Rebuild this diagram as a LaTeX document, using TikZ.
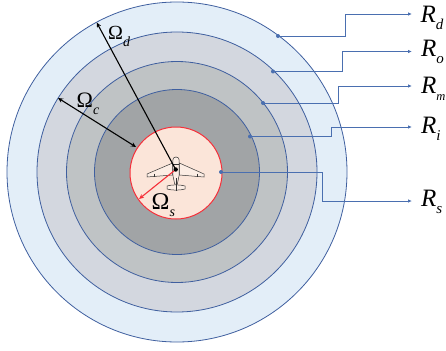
\documentclass[tikz,border=0pt]{standalone}
\usepackage{fontspec}
\setmainfont{Liberation Serif}
\usetikzlibrary{arrows.meta}
\definecolor{ringblue}{HTML}{3F5F9F}
\definecolor{leadblue}{HTML}{4A6FB0}
\definecolor{fd}{HTML}{E3EEF8}
\definecolor{fo}{HTML}{D3D7DF}
\definecolor{fm}{HTML}{BFC3C5}
\definecolor{fi}{HTML}{A1A4A6}
\definecolor{fs}{HTML}{FBE5D9}
\definecolor{redline}{HTML}{F5303A}
\tikzset{
  ring/.style={circle,draw=ringblue,line width=0.8pt,inner sep=0pt,minimum size=#1},
  lead/.style={draw=leadblue,line width=0.9pt,-{Latex[length=4pt,width=3.5pt]}},
  startdot/.style={circle,fill=leadblue,inner sep=0pt,minimum size=4pt},
  rlabel/.style={inner sep=0pt,anchor=base west,font=\fontsize{25}{25}\selectfont\itshape},
  omlabel/.style={inner sep=0pt,anchor=base west},
  dim/.style={draw=black,line width=1.1pt,{Stealth[length=5pt,width=4.5pt]}-{Stealth[length=5pt,width=4.5pt]}},
  plane/.style={draw=black!80,line width=0.5pt,fill=fs!70!white}
}
\newcommand{\rsub}[2][15]{\raisebox{-7pt}{\fontsize{#1}{#1}\selectfont\itshape #2}}
\newcommand{\omsub}[1]{\raisebox{-7pt}{\fontsize{14}{14}\selectfont\itshape #1}}
\begin{document}
\begin{tikzpicture}[x=1pt,y=-1pt]
\useasboundingbox (0,0) rectangle (446,350);
\node[ring=340pt,fill=fd] (d) at (177,172) {};
\node[ring=280pt,fill=fo] (o) at (177,172) {};
\node[ring=221pt,fill=fm] (m) at (177,172) {};
\node[ring=165pt,fill=fi] (i) at (177,172) {};
\node[circle,draw=redline,line width=1pt,fill=fs,inner sep=0pt,minimum size=92pt] (s) at (176,173) {};
% aircraft
\coordinate (c) at (175.7,169.5);
\draw[plane] (172.7,163) -- (147,174) -- (147,177) -- (172.7,175) -- cycle;
\draw[plane] (179.3,163) -- (204,174) -- (204,177) -- (179.3,175) -- cycle;
\draw[plane] (167,186) .. controls (172,184.5) and (180,184.5) .. (185,186) -- (185,189) .. controls (180,190.5) and (172,190.5) .. (167,189) -- cycle;
\draw[plane] (172.8,160) .. controls (172.8,156) and (179.2,156) .. (179.2,160) -- (179,176) -- (177.3,184) -- (174.7,184) -- (173,176) -- cycle;
\draw[black!80,line width=0.7pt] (176,178) -- (176,191);
\draw[black!80,line width=0.5pt] (172.8,164) -- (179.2,164);
\draw[black!80,line width=0.4pt] (197,173.5) -- (197,177) (154,173.5) -- (154,177);
% dimensions
\coordinate (dtip) at (96.7,22.5);
\coordinate (ctip) at (58,98);
\coordinate (cend) at (136,147);
\coordinate (stip) at (139,199);
\draw[draw=black,line width=1.1pt,-{Stealth[length=5pt,width=4.5pt]}] (c) -- (dtip);
\draw[dim] (ctip) -- (cend);
\draw[draw=redline,line width=1.1pt,-{Stealth[length=5pt,width=4.5pt]}] (c) -- (stip);
\fill[black] (c) circle (2.2pt);
\node[omlabel,font=\fontsize{20}{20}\selectfont] (ld) at (108,40) {Ω\omsub{d}};
\node[omlabel,font=\fontsize{22}{22}\selectfont] (lc) at (76.5,107) {Ω\omsub{c}};
\node[omlabel,font=\fontsize{24}{24}\selectfont] (ls) at (151.5,209) {Ω\omsub{s}};
% leader lines
\node[rlabel] (Rd) at (420.5,23) {R\rsub{d}};
\node[rlabel] (Ro) at (421,57) {R\rsub{o}};
\node[rlabel] (Rm) at (421,93) {R\rsub[12.5]{m}};
\node[rlabel] (Ri) at (421,133) {R\rsub{i}};
\node[rlabel] (Rs) at (421,206.7) {R\rsub{s}};
\coordinate (ad) at (278,36); \coordinate (ed) at (412,14);
\coordinate (ao) at (273,71.5); \coordinate (eo) at (412,51.5);
\coordinate (am) at (263,103); \coordinate (em) at (412,86);
\coordinate (ai) at (250,136.5); \coordinate (ei) at (412,127);
\coordinate (as) at (221,172); \coordinate (es) at (412,201);
\draw[lead] (ad) -- (345.7,36) -- (345.7,14) -- (ed);
\draw[lead] (ao) -- (342,71.5) -- (342,51.5) -- (eo);
\draw[lead] (am) -- (338,103) -- (338,86) -- (em);
\draw[lead] (ai) -- (331.5,136.5) -- (331.5,127) -- (ei);
\draw[lead] (as) -- (322,172) -- (322,201) -- (es);
\foreach \p in {ad,ao,am,ai,as} \node[startdot] at (\p) {};
\end{tikzpicture}
\end{document}
